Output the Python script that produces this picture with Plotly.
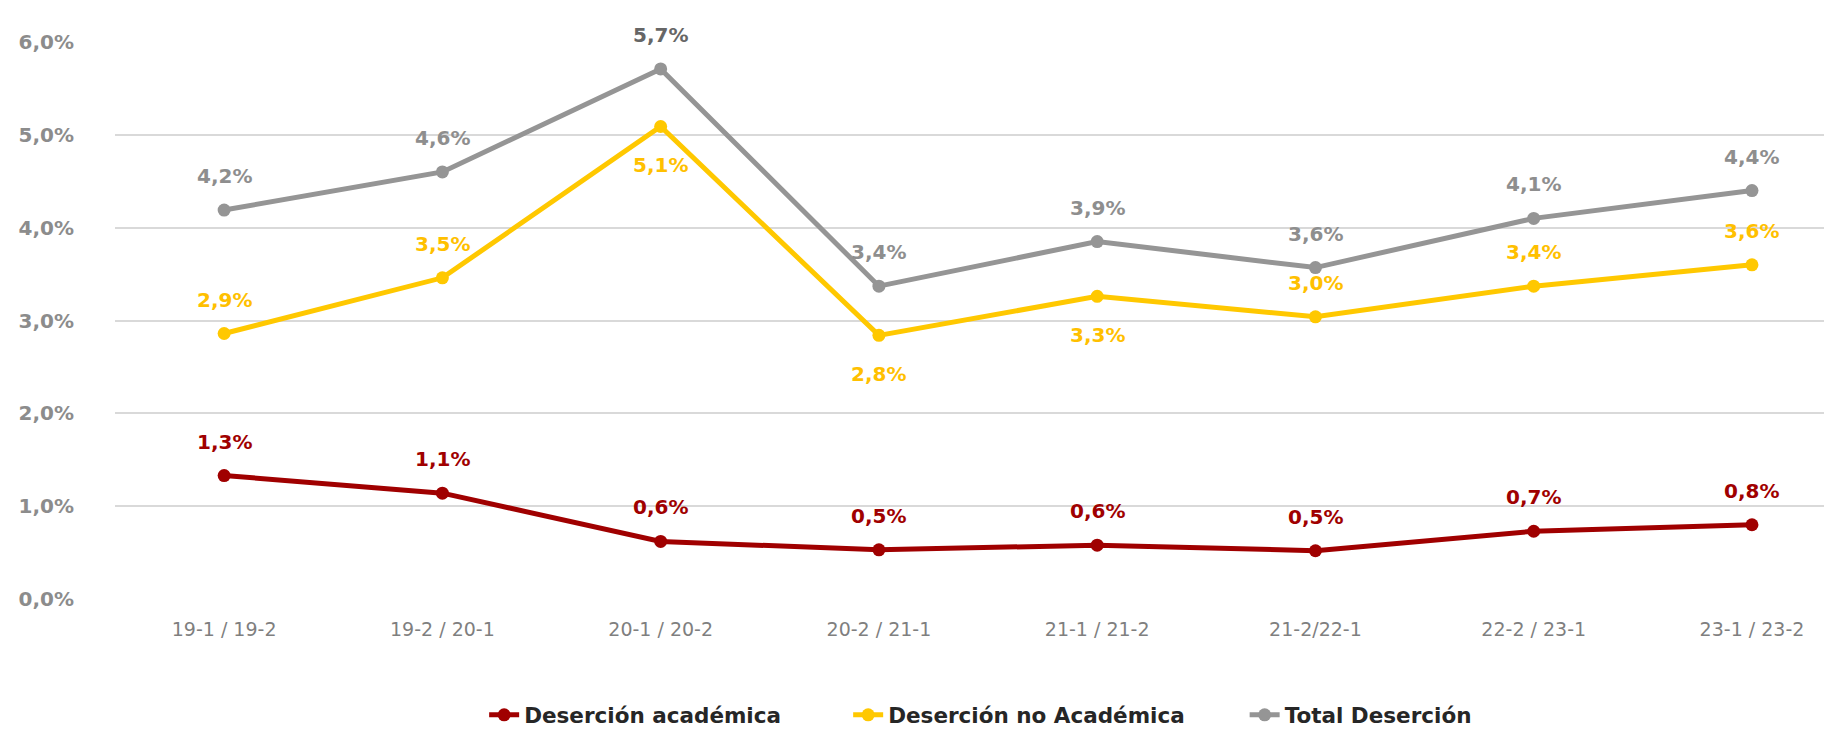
import plotly.graph_objects as go

# Periods and dropout rates (%)
periodos = ['19-1 / 19-2', '19-2 / 20-1', '20-1 / 20-2', '20-2 / 21-1',
            '21-1 / 21-2', '21-2/22-1', '22-2 / 23-1', '23-1 / 23-2']
academica = [1.33, 1.14, 0.62, 0.53, 0.58, 0.52, 0.73, 0.80]
no_academica = [2.86, 3.46, 5.09, 2.84, 3.26, 3.04, 3.37, 3.60]
total = [4.19, 4.60, 5.71, 3.37, 3.85, 3.57, 4.10, 4.40]

# label above (+1) or below (-1) the point
pos_no_acad = [1, 1, -1, -1, -1, 1, 1, 1]

ROJO = '#A00000'
AMARILLO = '#FFC800'
GRIS = '#959595'

fig = go.Figure()
series = [
    ('Deserción académica', academica, ROJO, 'legend', 0.216),
    ('Deserción no Académica', no_academica, AMARILLO, 'legend2', 0.429),
    ('Total Deserción', total, GRIS, 'legend3', 0.661),
]
for nombre, vals, color, leg, lx in series:
    fig.add_trace(go.Scatter(
        x=periodos, y=vals, name=nombre, mode='lines+markers',
        line=dict(color=color, width=5),
        marker=dict(color=color, size=13),
        legend=leg,
    ))

def fmt(v):
    return f'{v:.1f}%'.replace('.', ',')

annotations = []
for i, p in enumerate(periodos):
    annotations.append(dict(x=p, y=academica[i], text=fmt(academica[i]), yshift=34,
                            font=dict(color=ROJO)))
    up = pos_no_acad[i] > 0
    annotations.append(dict(x=p, y=no_academica[i], text=fmt(no_academica[i]),
                            yshift=34 if up else -39, font=dict(color='#FFC000')))
    annotations.append(dict(x=p, y=total[i], text=fmt(total[i]), yshift=34,
                            font=dict(color='#666666' if total[i] == max(total) else '#8E8E8E')))
for a in annotations:
    a.update(showarrow=False, xref='x', yref='y')
    a['font'].update(family='DejaVu Sans', size=20, weight='bold')

legend_style = dict(orientation='h', xanchor='left', y=-0.208, yanchor='middle',
                    font=dict(family='DejaVu Sans', size=21.5, color='#262626', weight='bold'),
                    bgcolor='rgba(0,0,0,0)')
layout_legends = {}
for nombre, vals, color, leg, lx in series:
    layout_legends[leg] = dict(legend_style, x=lx)

fig.update_layout(
    width=1823, height=722,
    margin=dict(l=107, r=7, t=34, b=131, autoexpand=False),
    plot_bgcolor='white', paper_bgcolor='white',
    separators=',.',
    annotations=annotations,
    showlegend=True,
    xaxis=dict(range=[-0.5, 7.33], showgrid=False, showline=False, zeroline=False,
               ticks='', tickfont=dict(family='DejaVu Sans', size=19, color='#7F7F7F'),
               ticklabelstandoff=17),
    yaxis=dict(range=[0, 6], dtick=1, tickformat='.1f', ticksuffix='%',
               showgrid=True, gridcolor='#D9D9D9', gridwidth=2, zeroline=False,
               tickfont=dict(family='DejaVu Sans', size=20, color='#8C8C8C', weight=600),
               ticklabelstandoff=40),
    **layout_legends,
)

fig.write_html('out.html')
